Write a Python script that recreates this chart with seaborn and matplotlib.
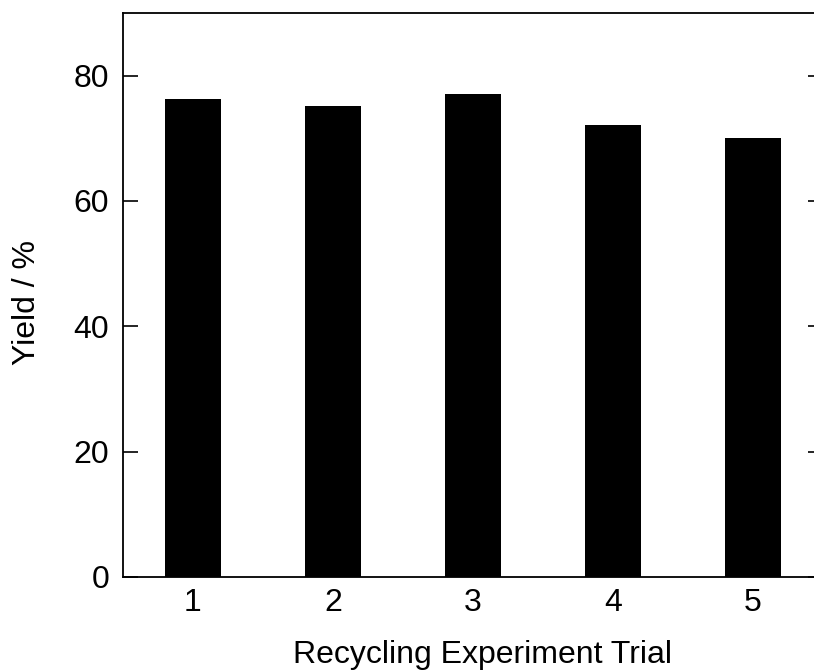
import matplotlib
matplotlib.use("Agg")
import matplotlib.pyplot as plt
import seaborn as sns
import pandas as pd

trials = ["1", "2", "3", "4", "5"]
yields = [76.3, 75.1, 77.0, 72.2, 70.0]

sns.set_theme(style="white")
plt.rcParams['font.family'] = ['Liberation Sans', 'DejaVu Sans']
plt.rcParams['text.color'] = 'black'
plt.rcParams['axes.labelcolor'] = 'black'
plt.rcParams['xtick.color'] = 'black'
plt.rcParams['ytick.color'] = 'black'

W, H = 814, 672
fig = plt.figure(figsize=(W / 100, H / 100), dpi=100)
ax = fig.add_axes([123 / W, (H - 577) / H, (823 - 123) / W, (577 - 13) / H])

df = pd.DataFrame({"trial": trials, "yield": yields})
sns.barplot(data=df, x="trial", y="yield", color="black", width=0.4,
            saturation=1, edgecolor="none", ax=ax)

ax.set_xlim(-0.5, 4.5)
ax.set_ylim(0, 90)
ax.set_yticks([0, 20, 40, 60, 80])
ax.set_xlabel("Recycling Experiment Trial", fontsize=23, color="black")
ax.set_ylabel("Yield / %", fontsize=23, color="black")
ax.xaxis.set_label_coords(0.513, -0.112)
ax.yaxis.set_label_coords(-0.116, 0.486)
ax.tick_params(axis="y", direction="in", length=11, width=1.2, labelsize=23,
               pad=10, right=True, left=True, color="black", labelcolor="black")
ax.tick_params(axis="x", length=0, labelsize=23, pad=8, labelcolor="black")
for s in ax.spines.values():
    s.set_visible(True)
    s.set_color("black")
    s.set_linewidth(1.3)

fig.savefig("out.png", dpi=100, facecolor="white")
